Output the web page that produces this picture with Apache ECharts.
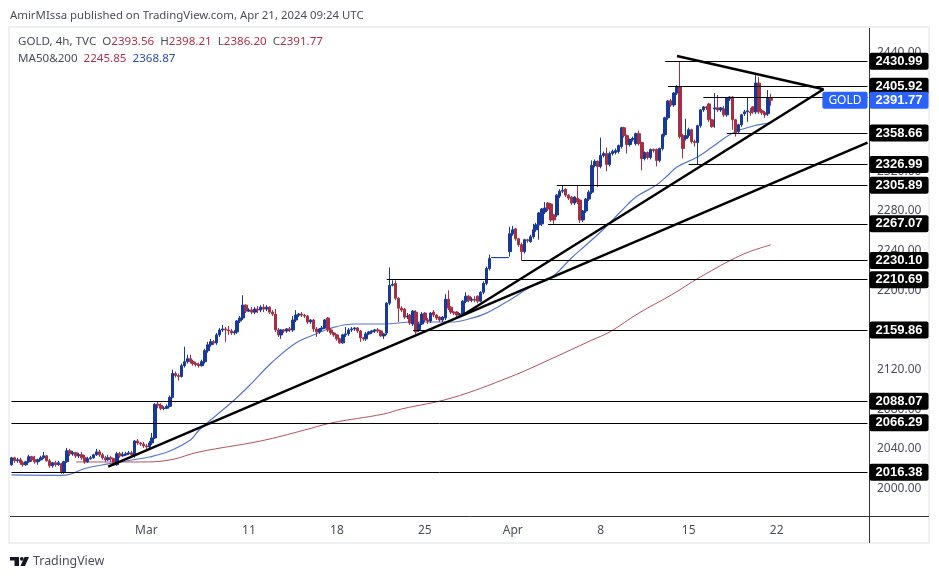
<!DOCTYPE html>
<html>
<head>
<meta charset="utf-8">
<title>GOLD 4h</title>
<script src="https://cdn.jsdelivr.net/npm/echarts@6/dist/echarts.min.js"></script>
<style>
html,body{margin:0;padding:0;background:#fff}
#chart{width:939px;height:579px}
</style>
</head>
<body>
<div id="chart"></div>
<script>
// open, close, low, high for each 4h bar
var candles = [
[2024,2031,2023,2032],[2031,2028,2026,2032],[2028,2029,2026,2031],[2029,2026,2024,2031],[2026,2024,2022,2028],
[2024,2027,2023,2028],[2027,2032,2026,2034],[2032,2029,2027,2033],[2029,2027,2025,2033],[2027,2029,2024,2030],
[2029,2031,2028,2033],[2031,2033,2030,2037],[2033,2028,2027,2034],[2028,2023,2021,2030],[2023,2026,2021,2027],
[2026,2024,2022,2028],[2024,2026,2023,2028],[2025,2017,2015,2026],[2017,2027,2015,2028],[2027,2038,2026,2041],
[2038,2035,2033,2040],[2035,2036,2033,2038],[2036,2033,2031,2037],[2033,2034,2031,2036],[2034,2031,2029,2037],
[2031,2027,2025,2034],[2027,2030,2026,2032],[2030,2031,2029,2033],[2031,2034,2030,2035],[2034,2037,2033,2040],
[2037,2034,2032,2039],[2034,2031,2029,2036],[2031,2029,2027,2033],[2029,2031,2028,2034],[2031,2030,2027,2033],
[2030,2024,2023,2031],[2024,2035,2023,2037],[2035,2033,2031,2037],[2033,2034,2032,2037],[2034,2035,2033,2037],
[2035,2036,2034,2038],[2036,2034,2031,2038],[2034,2048,2031,2049],[2048,2046,2044,2050],[2046,2045,2043,2047],
[2045,2043,2041,2047],[2043,2042,2039,2045],[2042,2046,2039,2048],[2046,2051,2044,2056],[2051,2085,2050,2086],
[2085,2084,2081,2088],[2084,2081,2079,2086],[2081,2081,2079,2083],[2081,2083,2080,2085],[2083,2092,2082,2094],
[2092,2116,2091,2120],[2116,2114,2112,2118],[2114,2113,2109,2116],[2113,2124,2112,2126],[2124,2128,2122,2143],
[2128,2131,2126,2135],[2131,2128,2126,2135],[2128,2126,2124,2130],[2126,2125,2123,2128],[2125,2124,2122,2127],
[2124,2128,2123,2130],[2128,2139,2126,2141],[2139,2145,2137,2148],[2145,2148,2143,2151],[2148,2147,2145,2150],
[2147,2155,2145,2157],[2155,2160,2153,2162],[2160,2161,2158,2165],[2161,2160,2148,2163],[2160,2159,2155,2164],
[2159,2157,2155,2161],[2157,2158,2155,2160],[2158,2169,2156,2170],[2169,2172,2167,2174],[2172,2185,2170,2195],
[2185,2179,2177,2186],[2179,2180,2178,2182],[2180,2178,2176,2183],[2178,2181,2176,2183],[2181,2180,2177,2184],
[2180,2183,2178,2185],[2183,2181,2178,2186],[2181,2183,2179,2185],[2183,2178,2176,2184],[2178,2176,2174,2180],
[2176,2160,2158,2181],[2160,2155,2153,2162],[2155,2160,2151,2161],[2160,2159,2157,2161],[2159,2161,2157,2162],
[2161,2160,2158,2163],[2160,2170,2158,2174],[2170,2175,2168,2180],[2175,2176,2173,2177],[2176,2175,2173,2178],
[2175,2174,2172,2176],[2174,2168,2166,2175],[2168,2170,2166,2171],[2170,2161,2158,2171],[2161,2158,2153,2163],
[2158,2161,2156,2162],[2161,2162,2159,2164],[2162,2170,2161,2171],[2172,2160,2158,2173],[2160,2157,2155,2162],
[2157,2155,2153,2158],[2155,2151,2149,2156],[2151,2147,2146,2152],[2147,2155,2146,2156],[2155,2156,2153,2163],
[2156,2160,2154,2162],[2160,2161,2158,2163],[2161,2162,2159,2163],[2162,2159,2157,2163],[2159,2152,2148,2160],
[2152,2151,2149,2153],[2151,2156,2149,2158],[2156,2158,2155,2159],[2158,2159,2156,2160],[2159,2160,2157,2161],
[2160,2159,2157,2162],[2159,2154,2153,2160],[2154,2156,2151,2157],[2157,2187,2155,2188],[2187,2205,2185,2223],
[2205,2206,2204,2210],[2207,2192,2190,2210],[2192,2182,2168,2193],[2182,2180,2178,2184],[2181,2173,2171,2182],
[2173,2174,2171,2177],[2175,2167,2165,2176],[2166,2179,2164,2180],[2178,2158,2156,2180],[2160,2166,2158,2168],
[2166,2176,2165,2178],[2177,2170,2168,2178],[2170,2169,2166,2172],[2169,2177,2167,2178],[2178,2175,2173,2180],
[2175,2172,2170,2176],[2173,2170,2168,2174],[2170,2173,2168,2174],[2172,2191,2170,2196],[2191,2182,2180,2200],
[2183,2178,2176,2184],[2178,2177,2175,2179],[2178,2175,2173,2179],[2175,2176,2172,2177],[2176,2189,2174,2190],
[2189,2194,2187,2198],[2194,2190,2188,2195],[2190,2191,2188,2193],[2191,2190,2188,2194],[2194,2189,2187,2195],
[2189,2198,2188,2199],[2198,2207,2196,2209],[2207,2222,2205,2224],[2222,2232,2220,2236],[2233,2233,2233,2233],
[2233,2233,2233,2233],[2233,2233,2233,2233],[2233,2233,2233,2233],[2233,2233,2233,2233],[2233,2233,2233,2233],
[2239,2257,2234,2264],[2257,2261,2255,2265],[2262,2252,2250,2263],[2252,2246,2244,2253],[2246,2239,2230,2248],
[2239,2251,2237,2252],[2251,2250,2248,2252],[2249,2254,2248,2256],[2254,2261,2252,2267],[2261,2266,2259,2268],
[2266,2278,2251,2279],[2267,2282,2265,2283],[2279,2283,2277,2289],[2288,2282,2280,2289],[2287,2271,2269,2288],
[2276,2271,2267,2277],[2276,2296,2274,2297],[2295,2300,2293,2302],[2300,2301,2298,2306],[2302,2296,2294,2303],
[2296,2293,2291,2297],[2294,2288,2286,2295],[2288,2294,2286,2295],[2293,2289,2287,2306],[2291,2271,2268,2292],
[2271,2280,2269,2281],[2280,2292,2278,2293],[2292,2299,2290,2301],[2299,2326,2297,2331],[2326,2330,2324,2332],
[2330,2325,2304,2331],[2325,2336,2323,2354],[2336,2338,2334,2340],[2338,2327,2320,2344],[2327,2338,2325,2340],
[2338,2340,2336,2342],[2339,2341,2337,2343],[2340,2346,2338,2347],[2345,2364,2343,2365],[2364,2356,2354,2365],
[2356,2347,2338,2357],[2347,2352,2345,2353],[2352,2353,2350,2355],[2348,2358,2346,2359],[2358,2348,2346,2361],
[2349,2333,2321,2350],[2333,2339,2331,2340],[2339,2334,2332,2340],[2334,2342,2332,2343],[2342,2341,2339,2343],
[2342,2331,2325,2343],[2331,2343,2329,2344],[2343,2357,2341,2358],[2357,2374,2355,2375],[2374,2391,2372,2392],
[2391,2387,2385,2393],[2387,2399,2385,2400],[2399,2405,2397,2407],[2405,2355,2353,2431],[2356,2343,2333,2358],
[2353,2356,2351,2373],[2356,2362,2354,2364],[2362,2350,2348,2363],[2350,2349,2345,2352],[2349,2366,2327,2367],
[2366,2382,2364,2383],[2382,2385,2380,2386],[2385,2384,2382,2386],[2388,2372,2370,2389],[2372,2365,2364,2373],
[2383,2384,2364,2399],[2384,2382,2380,2397],[2382,2384,2380,2385],[2383,2377,2375,2386],[2377,2394,2375,2395],
[2393,2395,2391,2396],[2395,2372,2362,2396],[2372,2358,2355,2373],[2360,2367,2358,2368],[2367,2377,2365,2378],
[2378,2380,2376,2382],[2380,2381,2370,2394],[2380,2379,2376,2384],[2385,2380,2378,2386],[2380,2409,2378,2417],
[2409,2380,2378,2415],[2381,2379,2377,2383],[2379,2377,2374,2381],[2378,2394,2376,2402],[2393.56,2391.77,2386.2,2398.21]
];

// bar number, price
var ma50 = [[0,2013.7],[17,2013.2],[20,2014.4],[25,2020.2],[33,2024.8],[41,2028.8],[47,2031.8],[54,2037.9],[61,2049],[64,2059],
[70,2074.2],[76,2089.3],[81,2103.4],[89,2127.6],[97,2146.8],[103,2154.9],[109,2161.9],[117,2166],[127,2166],[137,2168],
[150,2168],[156,2171],[162,2177],[170,2190.3],[177,2203.3],[184,2212.4],[191,2232.6],[196,2245.7],[202,2261.8],[208,2280],
[213,2294.1],[220,2306.2],[224,2316.3],[227,2324.4],[234,2334.5],[239,2344.5],[246,2358.7],[253,2365.7],[259,2368.87]];
var ma200 = [[22,2026.8],[44,2026.8],[54,2028.8],[64,2036.9],[85,2048],[100,2059],[109,2066.1],[127,2075.2],[133,2080.2],
[150,2091.3],[170,2112.5],[184,2130.7],[198,2149.8],[204,2157.9],[214,2177],[225,2195.2],[235,2213.4],[249,2235.6],[259,2245.85]];

var levels = [2430.99,2405.92,2358.66,2326.99,2305.89,2267.07,2230.10,2210.69,2159.86,2088.07,2066.29,2016.38];
var levelStarts = [223,224,244,231,186,183,174,128,137,0,0,0];
var lastPriceLine = [236,2394.6];
var lastPrice = 2391.77;

// drawn trend lines: from bar, from price, to bar, to price
var trendLines = [[33,2022.2,292,2348.9],[154,2175.1,277,2402.8],[227,2436.3,277,2402.8]];

var slotCount = 293;
var tickSlots = [46,81,111,141,171,201,231,261];
var tickLabels = ['Mar','11','18','25','Apr','8','15','22'];
var priceTicks = [2000,2040,2080,2120,2160,2200,2240,2280,2320,2360,2400,2440];

var categories = [];
for (var i = 0; i < slotCount; i++) {
    var t = tickSlots.indexOf(i);
    categories.push(t >= 0 ? tickLabels[t] : '');
}

var lineData = [];
for (i = 0; i < levels.length; i++) {
    lineData.push([
        {coord:[levelStarts[i],levels[i]],name:levels[i].toFixed(2)},
        {coord:[slotCount-1,levels[i]]}
    ]);
}
lineData.push([
    {coord:[lastPriceLine[0],lastPriceLine[1]],label:{show:false}},
    {coord:[slotCount-1,lastPriceLine[1]]}
]);
for (i = 0; i < trendLines.length; i++) {
    lineData.push([
        {coord:[trendLines[i][0],trendLines[i][1]],label:{show:false},lineStyle:{width:2.5}},
        {coord:[trendLines[i][2],trendLines[i][3]]}
    ]);
}

var font = '"Noto Sans", sans-serif';
var red = '#b2324a', blue = '#2a4bb0', gray = '#4a4e59';

var option = {
    animation:false,
    backgroundColor:'#fff',
    grid:{left:10,right:70,top:28,bottom:63},
    xAxis:{
        type:'category',
        data:categories,
        axisLine:{show:false},
        axisTick:{show:false},
        splitLine:{show:false},
        axisLabel:{interval:0,color:'#4a4e59',fontFamily:font,fontSize:12,margin:9}
    },
    yAxis:{
        type:'value',
        position:'right',
        min:1972.3,
        max:2464.6,
        splitLine:{show:false},
        axisTick:{show:false},
        axisLine:{show:false},
        axisLabel:{customValues:priceTicks,color:'#4a4e59',fontFamily:font,fontSize:12,margin:8,
            formatter:function(v){return v.toFixed(2);}}
    },
    series:[
        {name:'MA200',type:'line',data:ma200,showSymbol:false,connectNulls:true,smooth:0.4,z:1,
            lineStyle:{color:'#b5505f',width:1}},
        {name:'MA50',type:'line',data:ma50,showSymbol:false,connectNulls:true,smooth:0.4,z:1,
            lineStyle:{color:'#5577cc',width:1.2}},
        {
            name:'GOLD',
            type:'candlestick',
            data:candles,
            barWidth:3,
            z:3,
            itemStyle:{color:'#16399a',color0:'#a52f45',borderColor:'#16399a',borderColor0:'#a52f45',borderWidth:1},
            markLine:{
                silent:true,
                symbol:'none',
                animation:false,
                precision:2,
                lineStyle:{color:'#000',type:'solid',width:1},
                label:{
                    show:true,position:'end',distance:2,
                    formatter:function(p){return p.name;},
                    backgroundColor:'#000',color:'#fff',fontFamily:'"Liberation Sans"',
                    fontSize:13,fontWeight:'bold',padding:[2,6,2,6],borderRadius:2,lineHeight:13
                },
                emphasis:{disabled:true},
                data:lineData
            },
            markPoint:{
                silent:true,
                symbol:'circle',
                symbolSize:0,
                animation:false,
                data:[
                    {coord:[slotCount-1,lastPrice],label:{
                        show:true,position:'left',distance:0,formatter:'GOLD',
                        backgroundColor:'#2962ff',color:'#fff',fontFamily:font,fontSize:12,
                        padding:[2,6,2,6],borderRadius:2,lineHeight:13}},
                    {coord:[slotCount-1,lastPrice],label:{
                        show:true,position:'right',distance:2,formatter:lastPrice.toFixed(2),
                        backgroundColor:'#2962ff',color:'#fff',fontFamily:'"Liberation Sans"',fontWeight:'bold',fontSize:13,
                        padding:[2,6,2,6],borderRadius:2,lineHeight:13}}
                ]
            }
        }
    ],
    graphic:[
        {type:'rect',silent:true,z:0,shape:{x:9,y:27,width:920,height:516},style:{fill:'none',stroke:'#eef0f4',lineWidth:2}},
        {type:'line',silent:true,z:5,shape:{x1:869.5,y1:28,x2:869.5,y2:543},style:{stroke:'#333',lineWidth:1}},
        {type:'line',silent:true,z:5,shape:{x1:10,y1:516.5,x2:929,y2:516.5},style:{stroke:'#333',lineWidth:1}},
        {type:'text',silent:true,x:10,y:10,style:{text:'AmirMIssa published on TradingView.com, Apr 21, 2024 09:24 UTC',
            fill:gray,font:'11.4px '+font}},
        {type:'text',silent:true,x:18,y:36,style:{
            text:'GOLD, 4h, TVC  O{r|2393.56}  H{r|2398.21}  L{r|2386.20}  C{r|2391.77}',
            fill:gray,font:'11.6px '+font,
            rich:{r:{fill:red,font:'11.6px '+font}}}},
        {type:'text',silent:true,x:18,y:53,style:{
            text:'MA50&200  {r|2245.85}  {b|2368.87}',
            fill:gray,font:'11.6px '+font,
            rich:{r:{fill:red,font:'11.6px '+font},b:{fill:blue,font:'11.6px '+font}}}},
        {type:'polygon',silent:true,shape:{points:[[10,557],[19,557],[19,566],[14.5,566],[14.5,560.5],[10,560.5]]},style:{fill:'#131722'}},
        {type:'circle',silent:true,shape:{cx:21.8,cy:558.8,r:1.9},style:{fill:'#131722'}},
        {type:'polygon',silent:true,shape:{points:[[24.5,557],[29,557],[25,566],[20.5,566]]},style:{fill:'#131722'}},
        {type:'text',silent:true,x:33,y:555,style:{text:'TradingView',fill:gray,font:'12.4px '+font}}
    ]
};

var myChart = echarts.init(document.getElementById('chart'),null,{renderer:'canvas'});
myChart.setOption(option);
</script>
</body>
</html>
